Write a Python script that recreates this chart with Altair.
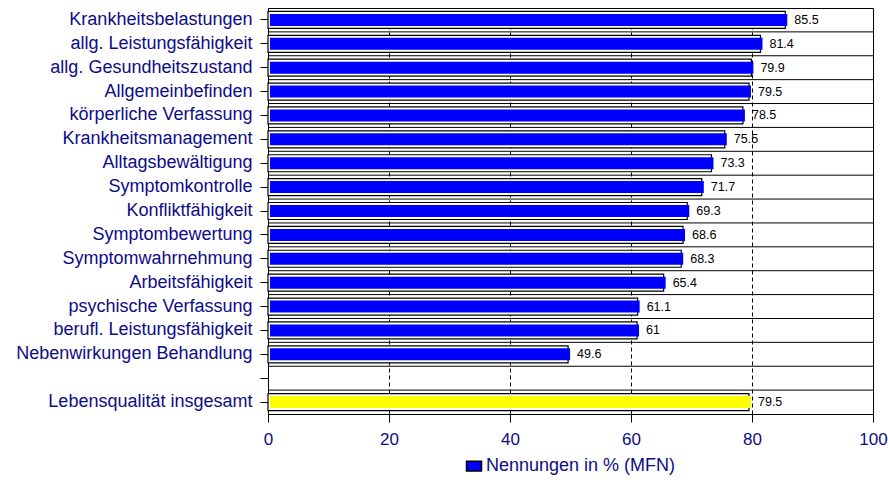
import altair as alt
import pandas as pd

# Items rated (top to bottom); the blank entry is an empty spacer row
categories = [
    "Krankheitsbelastungen",
    "allg. Leistungsfähigkeit",
    "allg. Gesundheitszustand",
    "Allgemeinbefinden",
    "körperliche Verfassung",
    "Krankheitsmanagement",
    "Alltagsbewältigung",
    "Symptomkontrolle",
    "Konfliktfähigkeit",
    "Symptombewertung",
    "Symptomwahrnehmung",
    "Arbeitsfähigkeit",
    "psychische Verfassung",
    "berufl. Leistungsfähigkeit",
    "Nebenwirkungen Behandlung",
    " ",
    "Lebensqualität insgesamt",
]
values = [85.5, 81.4, 79.9, 79.5, 78.5, 75.5, 73.3, 71.7, 69.3, 68.6,
          68.3, 65.4, 61.1, 61, 49.6, None, 79.5]
series = ["Nennungen in % (MFN)"] * 15 + [None, "Gesamt"]
x_ticks = [0, 20, 40, 60, 80, 100]

NAVY = "#0c0c88"
FONT = "Liberation Sans"

rows = [
    {"item": c, "value": v, "series": s}
    for c, v, s in zip(categories, values, series)
    if v is not None
]
bars_df = pd.DataFrame(rows)
sep_df = pd.DataFrame({"item": categories[1:]})

y_enc = alt.Y(
    "item:N",
    sort=categories,
    scale=alt.Scale(domain=categories),
    axis=alt.Axis(
        title=None,
        labelFont=FONT,
        labelFontSize=18,
        labelColor=NAVY,
        labelPadding=8,
        tickSize=8,
        tickColor="black",
        domainColor="black",
        grid=False,
        labelLimit=400,
    ),
)
x_enc = alt.X(
    "value:Q",
    scale=alt.Scale(domain=[0, 100], nice=False),
    axis=alt.Axis(
        title=None,
        values=x_ticks,
        labelFont=FONT,
        labelFontSize=17,
        labelColor=NAVY,
        labelPadding=9,
        labelFlush=False,
        labelOverlap=False,
        tickSize=8,
        tickColor="black",
        domainColor="black",
        grid=True,
        gridColor="black",
        gridDash=[4, 3],
        gridWidth=1,
        gridOpacity=1,
    ),
)

base = alt.Chart(bars_df)

# Solid separators between rows
separators = alt.Chart(sep_df).mark_rule(color="black", strokeWidth=1).encode(
    y=alt.Y("item:N", sort=categories, scale=alt.Scale(domain=categories),
            bandPosition=0)
)

# Outer black frame with white inner rim
outline = base.mark_bar(fill="white", stroke="black", strokeWidth=1.2, size=17).encode(
    x=x_enc, y=y_enc
)

# Coloured fill, inset inside the outline
fill = base.mark_bar(size=12, xOffset=2, x2Offset=-2).encode(
    x=alt.X("value:Q"),
    y=alt.Y("item:N", sort=categories),
    color=alt.Color(
        "series:N",
        scale=alt.Scale(domain=["Nennungen in % (MFN)", "Gesamt"],
                        range=["#0000ff", "#ffff00"]),
        legend=alt.Legend(
            title=None,
            values=["Nennungen in % (MFN)"],
            orient="none",
            legendX=197,
            legendY=449,
            symbolType="M-1,-0.65L1,-0.65L1,0.65L-1,0.65Z",
            symbolSize=225,
            symbolStrokeColor="black",
            symbolStrokeWidth=1.5,
            symbolOpacity=1,
            labelFont=FONT,
            labelFontSize=18,
            labelColor=NAVY,
            labelOffset=3,
            labelLimit=400,
            padding=0,
        ),
    ),
)

labels = base.mark_text(
    align="left", baseline="middle", dx=9, font=FONT, fontSize=12.5, color="black"
).encode(
    x=alt.X("value:Q"),
    y=alt.Y("item:N", sort=categories),
    text=alt.Text("value:Q", format=".3~g"),
)

chart = (
    alt.layer(separators, outline, fill, labels)
    .properties(
        width=605,
        height=406,
        autosize=alt.AutoSizeParams(type="none"),
        padding={"left": 268, "top": 8, "right": 15, "bottom": 68},
        background="white",
    )
    .configure_view(stroke="black", strokeWidth=1)
    .resolve_scale(y="shared")
)

chart.save("out.html", embed_options={"renderer": "svg", "actions": False})
